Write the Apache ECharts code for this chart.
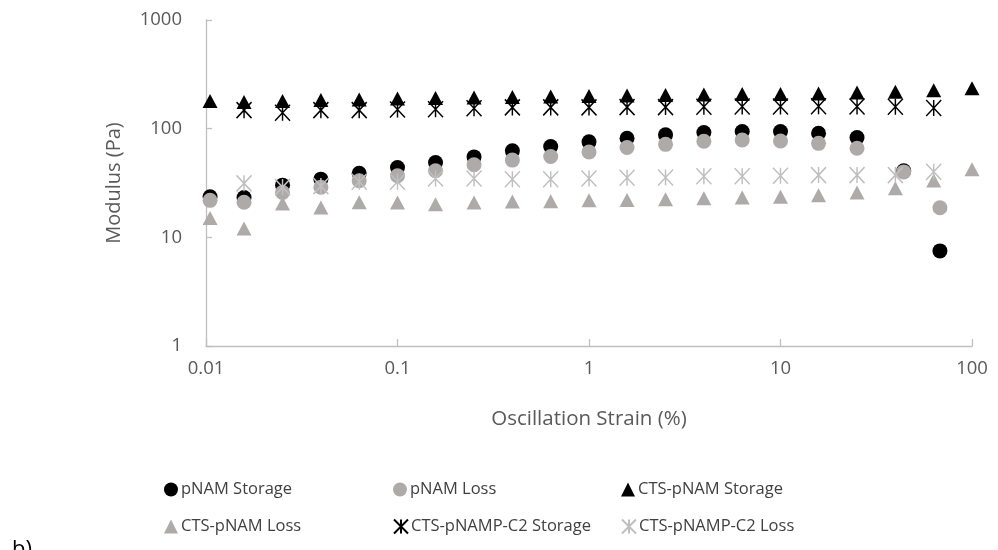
<!DOCTYPE html>
<html>
<head>
<meta charset="utf-8">
<script src="https://cdn.jsdelivr.net/npm/echarts@6/dist/echarts.min.js"></script>
<style>
  html, body { margin: 0; padding: 0; background: #ffffff; }
  #chart { width: 998px; height: 550px; }
</style>
</head>
<body>
<div id="chart"></div>
<script>
// Oscillation strain sweep (%), shared by most series
const strain = [0.0105, 0.0158, 0.0251, 0.0398, 0.0631, 0.1, 0.158, 0.251, 0.398, 0.631,
                1, 1.58, 2.51, 3.98, 6.31, 10, 15.8, 25.1, 39.8, 63.1, 100];

// pNAM: measured up to 25 % on the shared grid, then two extra points
const pnamStrain = strain.slice(0, 18).concat([44, 68]);
const pnamStorage = [23.6, 23.2, 30.2, 34.3, 38.9, 43.9, 48.7, 55, 62.5, 68.4,
                     75.6, 81.7, 87.7, 92, 94, 94, 90.7, 82.8, 41, 7.5];
const pnamLoss = [21.9, 21.0, 25.9, 28.9, 33.2, 36.9, 41, 46.5, 51.4, 55.5,
                  61, 67, 71.7, 76.5, 78.6, 77, 73.3, 66, 40, 18.7];

// CTS-pNAM: full sweep
const ctsStorage = [180, 176, 180, 184, 186, 189, 192, 194, 196, 198,
                    200, 202, 204, 206, 208, 209, 211, 215, 219, 226, 235];
const ctsLoss = [15.1, 12.05, 20.5, 18.8, 21, 20.9, 20.2, 20.9, 21.4, 21.5,
                 21.9, 22.1, 22.4, 22.9, 23.2, 23.6, 24.4, 25.8, 28.3, 33.4, 42.4];

// CTS-pNAMP-C2: second to second-last strain step
const c2Strain = strain.slice(1, 20);
const c2Storage = [148, 140, 148, 148, 150, 151, 154, 157, 157, 157,
                   158, 158, 159, 160, 160, 161, 160, 159, 155];
const c2Loss = [31.4, 29, 29.6, 32.5, 32.5, 34.8, 34.8, 34.2, 34.2, 34.8,
                35.3, 35.5, 36.5, 36.5, 36.9, 37.4, 37.4, 37.4, 40.1];

const seriesNames = ['pNAM Storage', 'pNAM Loss', 'CTS-pNAM Storage',
                     'CTS-pNAM Loss', 'CTS-pNAMP-C2 Storage', 'CTS-pNAMP-C2 Loss'];

const xTicks = [0.01, 0.1, 1, 10, 100];
const yTicks = [1, 10, 100, 1000];

const FONT = '"Open Sans"';
const BLACK = '#000000';
const GREY = '#aeaaaa';
const LIGHT = '#bfbfbf';
// asterisk marker: X with a vertical stroke
const STAR = 'path://M0,0L10,10M10,0L0,10M5,0L5,10';

function pairs(xs, ys) {
  return xs.map((x, i) => [x, ys[i]]);
}

function scatter(name, xs, ys, symbol, color, size, stroked) {
  return {
    name: name,
    type: 'scatter',
    data: pairs(xs, ys),
    symbol: symbol,
    symbolSize: size,
    itemStyle: stroked
      ? { color: 'rgba(0,0,0,0)', borderColor: color, borderWidth: 1.5, opacity: 1 }
      : { color: color, borderWidth: 0, opacity: 1 },
    emphasis: { disabled: true }
  };
}

const chart = echarts.init(document.getElementById('chart'), null, { renderer: 'canvas' });

// legend placed as a 3 x 2 grid, one component per entry
const legendCols = [159, 388, 616];
const legendRows = [476, 513];
const legends = seriesNames.map((n, i) => ({
  data: [n],
  left: legendCols[i % 3],
  top: legendRows[Math.floor(i / 3)],
  itemWidth: 14,
  itemHeight: 14,
  itemGap: 0,
  textStyle: { fontFamily: FONT, fontSize: 16.5, color: '#404040', padding: [0, 0, 0, -2] },
  selectedMode: false
}));

chart.setOption({
  animation: false,
  backgroundColor: '#ffffff',
  textStyle: { fontFamily: FONT },
  grid: { left: 206, right: 26, top: 20, bottom: 204, containLabel: false },
  legend: legends,
  graphic: [{
    type: 'text',
    left: 12,
    top: 539,
    style: { text: 'b)', font: '22px ' + FONT, fill: '#000000' }
  }],
  xAxis: {
    type: 'log',
    logBase: 10,
    min: xTicks[0],
    max: xTicks[xTicks.length - 1],
    name: 'Oscillation Strain (%)',
    nameLocation: 'middle',
    nameGap: 63,
    nameTextStyle: { fontFamily: FONT, fontSize: 20.5, color: '#595959' },
    axisLine: { show: true, lineStyle: { color: LIGHT, width: 1.3 } },
    axisTick: { show: true, inside: true, length: 7, lineStyle: { color: LIGHT, width: 1.3 } },
    axisLabel: { fontFamily: FONT, fontSize: 18.5, color: '#595959', margin: 13,
                 formatter: v => String(+v.toPrecision(3)) },
    splitLine: { show: false },
    minorTick: { show: false }
  },
  yAxis: {
    type: 'log',
    logBase: 10,
    min: yTicks[0],
    max: yTicks[yTicks.length - 1],
    name: 'Modulus (Pa)',
    nameLocation: 'middle',
    nameGap: 82,
    nameRotate: 90,
    nameTextStyle: { fontFamily: FONT, fontSize: 20, color: '#595959' },
    axisLine: { show: true, lineStyle: { color: LIGHT, width: 1.3 } },
    axisTick: { show: true, inside: true, length: 6, lineStyle: { color: LIGHT, width: 1.3 } },
    axisLabel: { fontFamily: FONT, fontSize: 18.5, color: '#595959', margin: 24,
                 formatter: v => String(+v.toPrecision(3)) },
    splitLine: { show: false }
  },
  series: [
    scatter(seriesNames[0], pnamStrain, pnamStorage, 'circle', BLACK, 15, false),
    scatter(seriesNames[1], pnamStrain, pnamLoss, 'circle', GREY, 15, false),
    scatter(seriesNames[2], strain, ctsStorage, 'triangle', BLACK, [15, 14], false),
    scatter(seriesNames[3], strain, ctsLoss, 'triangle', GREY, [15, 14], false),
    scatter(seriesNames[4], c2Strain, c2Storage, STAR, BLACK, [15, 16], true),
    scatter(seriesNames[5], c2Strain, c2Loss, STAR, LIGHT, [15, 16], true)
  ]
});
</script>
</body>
</html>
